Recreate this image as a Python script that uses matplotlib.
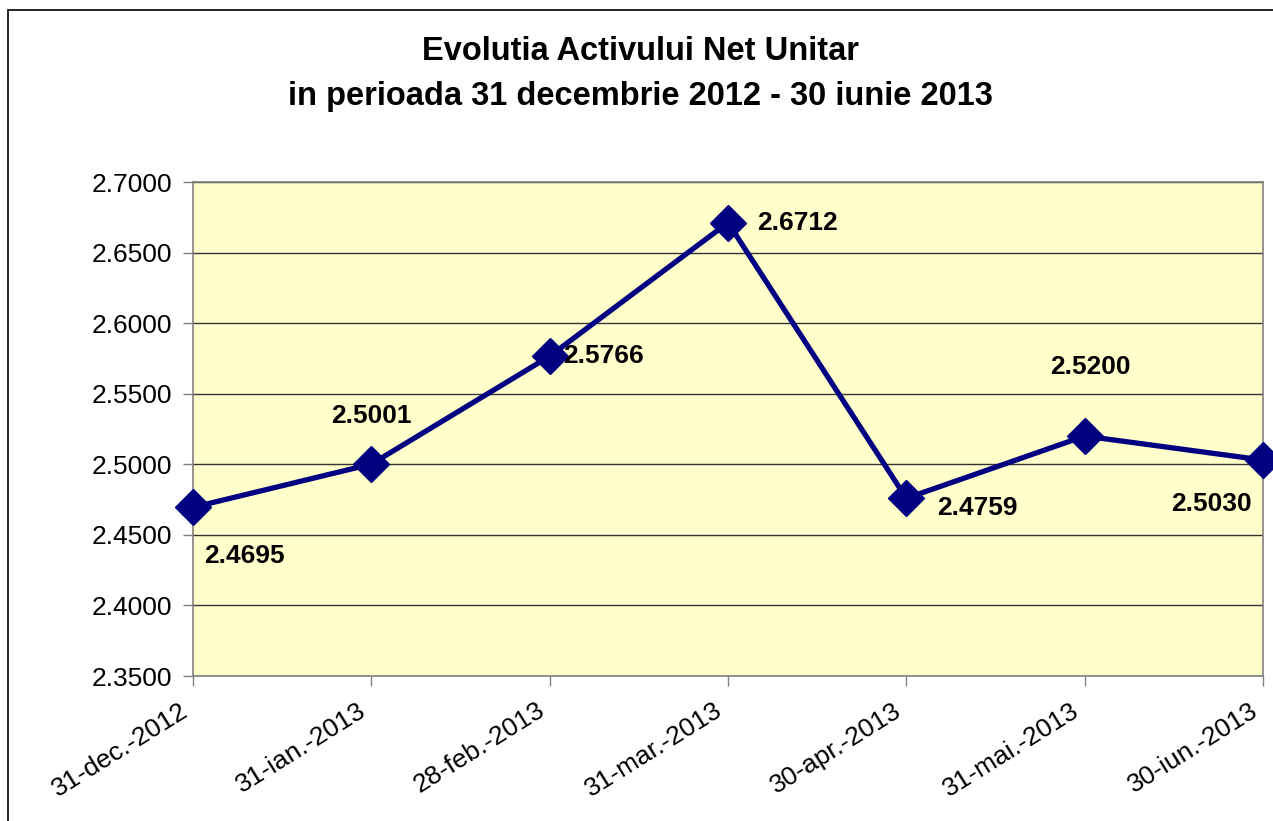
import matplotlib.pyplot as plt
import matplotlib.transforms as mtransforms
from matplotlib.patches import Rectangle
from matplotlib.ticker import FormatStrFormatter

plt.rcParams['font.family'] = ['Liberation Sans', 'DejaVu Sans']

dates = ['31-dec.-2012', '31-ian.-2013', '28-feb.-2013', '31-mar.-2013',
         '30-apr.-2013', '31-mai.-2013', '30-iun.-2013']
values = [2.4695, 2.5001, 2.5766, 2.6712, 2.4759, 2.5200, 2.5030]
yticks = [2.35, 2.40, 2.45, 2.50, 2.55, 2.60, 2.65, 2.70]

# label offsets (points) for each data label
offsets = [(37, -35), (0, 35), (39, 0), (50, 0), (51, -7), (4, 50), (-37, -32)]

fig = plt.figure(figsize=(12.73, 8.21), dpi=100)
fig.patches.append(Rectangle((8 / 1273, -0.1), 1.2, 1 - 10 / 821 + 0.1,
                             transform=fig.transFigure, fill=False,
                             edgecolor='black', linewidth=1.2))

ax = fig.add_axes([193 / 1273, 1 - 676 / 821, 1070 / 1273, 494 / 821])
ax.set_facecolor('#FFFFCC')

x = list(range(len(dates)))
ax.plot(x, values, color='#000080', lw=3.8, marker='D', ms=18.5,
        clip_on=False, zorder=5)

for xi, v, off in zip(x, values, offsets):
    ax.annotate(f'{v:.4f}', (xi, v), xytext=off, textcoords='offset points',
                ha='center', va='center', fontsize=19, fontweight='bold',
                zorder=6, annotation_clip=False)

ax.set_xlim(0, len(dates) - 1)
ax.set_ylim(2.35, 2.70)
ax.set_yticks(yticks)
ax.yaxis.set_major_formatter(FormatStrFormatter('%.4f'))
ax.set_xticks(x)
ax.set_xticklabels(dates, rotation=32, ha='right', rotation_mode='anchor')
ax.tick_params(axis='both', labelsize=19, direction='out', length=7,
               width=1, color='#808080')
ax.tick_params(axis='y', pad=8)
ax.tick_params(axis='x', pad=9)
shift = mtransforms.ScaledTranslation(-10 / 72, 0, fig.dpi_scale_trans)
for lbl in ax.get_xticklabels():
    lbl.set_transform(lbl.get_transform() + shift)
ax.grid(axis='y', color='#333333', lw=1)
ax.set_axisbelow(True)
for s in ax.spines.values():
    s.set_color('#808080')
    s.set_linewidth(1.2)

fig.text(0.503, 1 - 52 / 821, 'Evolutia Activului Net Unitar',
         ha='center', va='center', fontsize=23.5, fontweight='bold')
fig.text(0.503, 1 - 96 / 821, 'in perioada 31 decembrie 2012 - 30 iunie 2013',
         ha='center', va='center', fontsize=23.5, fontweight='bold')

fig.savefig('out.png', dpi=100)
